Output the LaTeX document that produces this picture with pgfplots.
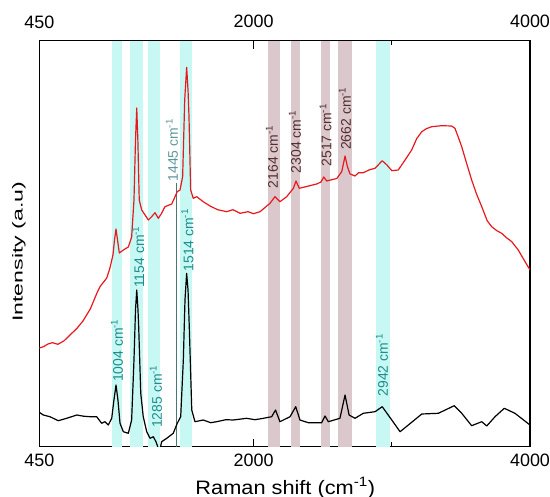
\documentclass[border=0pt]{standalone}
\usepackage{pgfplots}
\pgfplotsset{compat=1.18}
\usepackage{fontspec}
\setmainfont{Liberation Sans}
\definecolor{cyanband}{RGB}{200,248,243}
\definecolor{mauveband}{RGB}{218,200,205}
\definecolor{teallab}{RGB}{30,140,140}
\definecolor{lightteal}{RGB}{95,150,155}
\definecolor{brownlab}{RGB}{85,45,45}
\definecolor{lineteal}{RGB}{70,120,120}
\definecolor{redcurve}{RGB}{232,25,30}
\newcommand\lab[1]{\fontsize{14}{16}\selectfont #1 cm\textsuperscript{-1}}
\begin{document}
\begin{tikzpicture}
\path[use as bounding box] (-39.3bp,-50.3bp) rectangle (510.7bp,446.7bp);
\begin{axis}[
  scale only axis, width=490.7bp, height=406bp,
  xmin=450, xmax=4000, ymin=0, ymax=406,
  xtick={1000,3000}, xticklabels={},
  extra x ticks={2000}, extra x tick labels={},
  extra x tick style={major tick length=8bp},
  major tick length=4.5bp,
  ytick=\empty,
  axis line style={line width=1.1bp},
  every tick/.style={black, line width=1bp},
  clip mode=individual,
]
% bands
\addplot[fill=cyanband, draw=none] coordinates {(974,406) (1046,406)} \closedcycle;
\addplot[fill=cyanband, draw=none] coordinates {(1106,406) (1198,406)} \closedcycle;
\addplot[fill=cyanband, draw=none] coordinates {(1236,406) (1323,406)} \closedcycle;
\addplot[fill=cyanband, draw=none] coordinates {(1468,406) (1557,406)} \closedcycle;
\addplot[fill=cyanband, draw=none] coordinates {(2886,406) (2987,406)} \closedcycle;
\addplot[fill=mauveband, draw=none] coordinates {(2104,406) (2191,406)} \closedcycle;
\addplot[fill=mauveband, draw=none] coordinates {(2271,406) (2338,406)} \closedcycle;
\addplot[fill=mauveband, draw=none] coordinates {(2486,406) (2553,406)} \closedcycle;
\addplot[fill=mauveband, draw=none] coordinates {(2613,406) (2710,406)} \closedcycle;
% 1445 line
\addplot[lineteal, line width=1bp] coordinates {(1445,0) (1445,263.7)};
% red spectrum
\addplot[redcurve, line width=1.2bp, line join=round] coordinates {
(450,98.7) (480,100) (513,102.7) (545,104) (585,102.4) (630,106) (672,111.7) (720,118) (766,125.7) (820,138) (867,153.7) (889,160)
(938,168.7) (961,178.7) (983,191.7) (994,206.7) (1005,217.7) (1016,206.7) (1029,193.7)
(1058,196.7) (1094,199.7) (1118,209.7) (1135,246.7) (1146,306.7) (1155,338.7) (1163,306.7)
(1173,246.7) (1191,236.7) (1215,231.7) (1239,226.7) (1263,230) (1287,234) (1311,228.4)
(1335,233.4) (1359,240) (1408,242.7) (1432,250) (1448,255) (1468,256.7) (1487,270)
(1502,346.7) (1516,379.4) (1526,356.7) (1533,330) (1545,256.7) (1564,248.4) (1589,250)
(1636,245) (1685,240.7) (1740,237) (1806,235) (1850,237) (1902,233.4) (1960,235) (2000,233) (2047,235) (2119,243.4) (2155,250)
(2191,245) (2240,250) (2288,258.4) (2307,265.7) (2331,258.4) (2384,260.2) (2457,262.7)
(2488,264.7) (2508,269.7) (2529,265.7) (2602,268.2) (2638,275) (2662,290.7) (2679,280)
(2698,272.7) (2734,270.7) (2760,274) (2794,274) (2840,277) (2879,278.4) (2931,286) (2965,281.7) (3000,276)
(3047,276.7) (3096,286.7) (3144,296.7) (3180,308) (3217,315) (3250,318) (3289,320) (3360,321) (3433,320.7) (3457,318.4)
(3480,310) (3506,300) (3540,284) (3578,266.7) (3615,252) (3651,240) (3690,226) (3723,220) (3760,216) (3795,213.4) (3830,209) (3868,205) (3915,196.7) (3960,186) (4000,176.7)
};
% black spectrum
\addplot[black, line width=1.2bp, line join=round] coordinates {
(450,34.4) (479,31.7) (527,30) (587,26) (648,28.4) (721,31.7) (770,30.5) (817,30) (865,30)
(901,23.4) (925,25) (949,21.7) (974,28.4) (990,46.7) (1005,61.7) (1019,46.7) (1034,23.4)
(1058,15) (1094,13.4) (1118,26.7) (1135,86.7) (1146,136.7) (1155,156.7) (1164,136.7)
(1169,120) (1184,53.4) (1202,30) (1227,15) (1251,8.4) (1275,10) (1294,5) (1311,-1.6)
(1323,-3) (1335,5) (1372,8.4) (1419,13.4) (1448,23.4) (1473,30) (1492,86.7) (1504,146.7)
(1516,173.4) (1526,156.7) (1535,120) (1553,36.7) (1576,25) (1636,26.7) (1690,24) (1733,25)
(1800,27) (1853,26.7) (1900,27.5) (1950,28.4) (2010,27) (2071,28.4) (2131,30) (2159,36.7) (2191,25) (2264,30) (2305,40)
(2336,26.7) (2396,24) (2493,24) (2517,30.7) (2541,25) (2625,28.4) (2662,51.7) (2691,31.7)
(2734,28.4) (2794,33.4) (2879,35) (2931,40) (3000,26.7) (3060,15) (3120,21.7) (3217,32.7)
(3337,33.4) (3452,41) (3506,33.4) (3578,21) (3651,25) (3687,20.7) (3747,30) (3814,38.4)
(3891,33.4) (4000,21.7)
};
% peak labels
\node[rotate=90, anchor=west, inner sep=0pt, text=teallab] at (axis cs:1012,64.7) {\lab{1004}};
\node[rotate=90, anchor=west, inner sep=0pt, text=teallab] at (axis cs:1165,158.7) {\lab{1154}};
\node[rotate=90, anchor=west, inner sep=0pt, text=teallab] at (axis cs:1294,18.7) {\lab{1285}};
\node[rotate=90, anchor=west, inner sep=0pt, text=teallab] at (axis cs:1522,175) {\lab{1514}};
\node[rotate=90, anchor=west, inner sep=0pt, text=lightteal] at (axis cs:1410,265) {\lab{1445}};
\node[rotate=90, anchor=west, inner sep=0pt, text=brownlab] at (axis cs:2133,258.4) {\lab{2164}};
\node[rotate=90, anchor=west, inner sep=0pt, text=brownlab] at (axis cs:2300,273.4) {\lab{2304}};
\node[rotate=90, anchor=west, inner sep=0pt, text=brownlab] at (axis cs:2521,280) {\lab{2517}};
\node[rotate=90, anchor=west, inner sep=0pt, text=brownlab] at (axis cs:2662,296.7) {\lab{2662}};
\node[rotate=90, anchor=west, inner sep=0pt, text=teallab] at (axis cs:2929,50) {\lab{2942}};
% tick labels (bottom and top)
\node[anchor=base, inner sep=0pt, font=\fontsize{18}{20}\selectfont] at (axis cs:450,-20) {450};
\node[anchor=base, inner sep=0pt, font=\fontsize{18}{20}\selectfont] at (axis cs:2000,-20) {2000};
\node[anchor=base, inner sep=0pt, font=\fontsize{18}{20}\selectfont] at (axis cs:4000,-20) {4000};
\node[anchor=base, inner sep=0pt, font=\fontsize{18}{20}\selectfont] at (axis cs:450,418) {450};
\node[anchor=base, inner sep=0pt, font=\fontsize{18}{20}\selectfont] at (axis cs:2000,419.5) {2000};
\node[anchor=base, inner sep=0pt, font=\fontsize{18}{20}\selectfont] at (axis cs:4000,419.5) {4000};
% axis labels
\node[anchor=base, inner sep=0pt] at (axis cs:2230,-47.3) {\scalebox{1.12}[1]{\fontsize{19.5}{22}\selectfont Raman shift (cm\textsuperscript{-1})}};
\node[rotate=90, anchor=center, inner sep=0pt] at (axis cs:303,195) {\scalebox{1.6}[1]{\fontsize{14.5}{17}\selectfont Intensity (a.u)}};
\end{axis}
\end{tikzpicture}
\end{document}
